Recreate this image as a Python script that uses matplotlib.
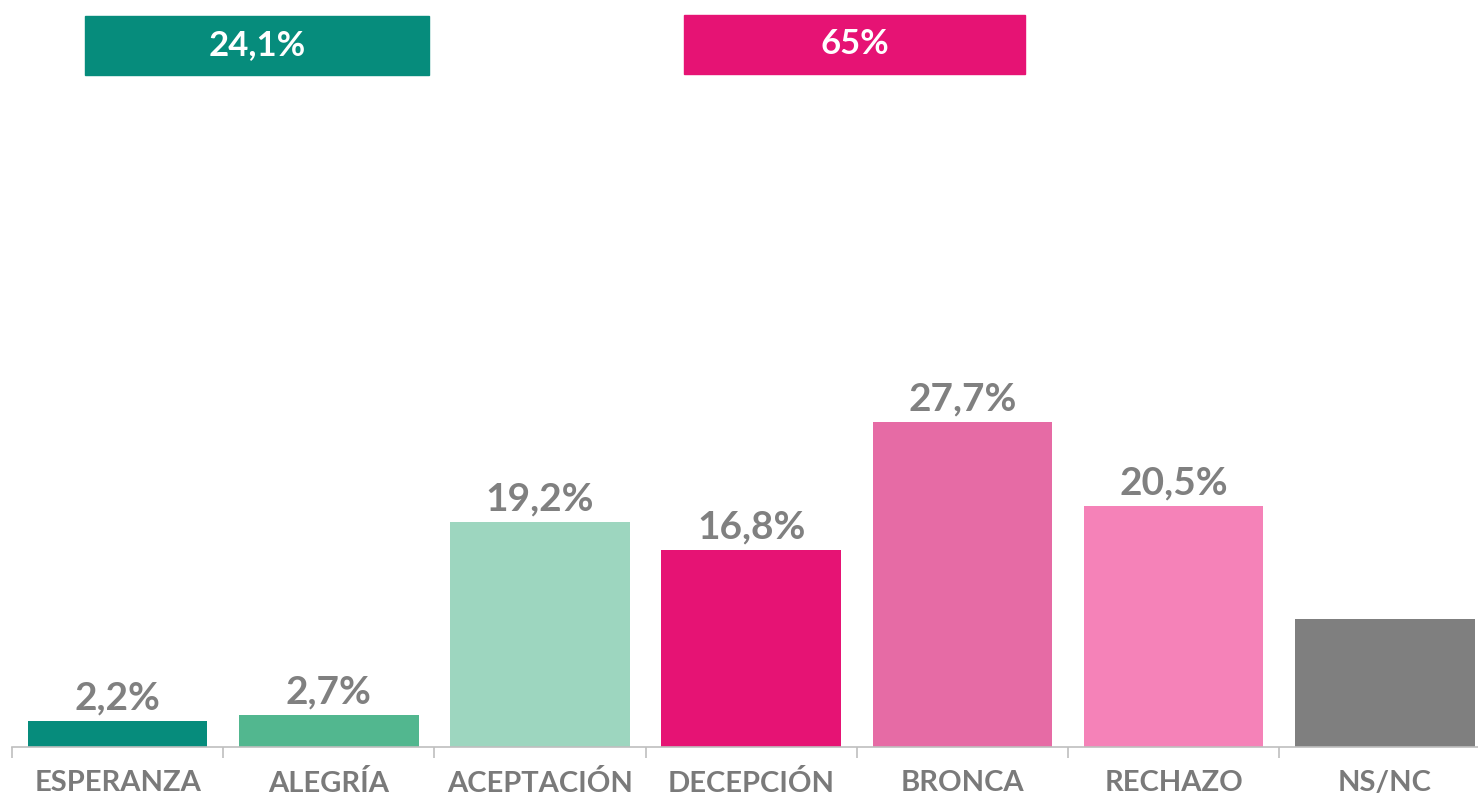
import matplotlib
matplotlib.use("Agg")
import matplotlib.pyplot as plt
from matplotlib.patches import Rectangle

categories = ["ESPERANZA", "ALEGRÍA", "ACEPTACIÓN", "DECEPCIÓN", "BRONCA", "RECHAZO", "NS/NC"]
values = [2.2, 2.7, 19.2, 16.8, 27.7, 20.5, 10.9]
value_labels = ["2,2%", "2,7%", "19,2%", "16,8%", "27,7%", "20,5%", ""]
colors = ["#068c7c", "#52b78f", "#9dd6bf", "#e61374", "#e66ba5", "#f582b8", "#7f7f7f"]
group_labels = ["24,1%", "65%"]
group_colors = ["#068c7c", "#e61374"]

plt.rcParams['font.family'] = ['Lato', 'DejaVu Sans']

W, H = 1478, 800
fig = plt.figure(figsize=(W / 100, H / 100), dpi=100)
base_px = 746.5
px_per_unit = 11.715
cat_w = 211.2
left_px = 12
ax = fig.add_axes([left_px / W, (H - base_px) / H, 7 * cat_w / W, base_px / H])
ax.set_xlim(-0.5, 6.5)
ax.set_ylim(0, base_px / px_per_unit)

x = list(range(len(categories)))
bars = ax.bar(x, values, width=0.85, color=colors)
for b, lab in zip(bars, value_labels):
    if lab:
        ax.annotate(lab, (b.get_x() + b.get_width() / 2, b.get_height()),
                    xytext=(0, 4), textcoords="offset points", ha="center", va="bottom",
                    fontsize=28, color="#808080", fontweight="bold")

for s in ["top", "right", "left"]:
    ax.spines[s].set_visible(False)
ax.spines["bottom"].set_color("#bfbfbf")
ax.spines["bottom"].set_linewidth(1.2)
ax.set_yticks([])
ax.set_xticks(x)
ax.set_xticklabels(categories, fontsize=21, color="#7a7a7a", fontweight="bold")
ax.tick_params(axis="x", which="major", length=0, pad=17)
ax.set_xticks([i - 0.5 for i in range(8)], minor=True)
ax.tick_params(axis="x", which="minor", length=8, color="#bfbfbf", width=1.2)

# group banners (figure pixel coordinates)
banners = [(85, 16, 344, 59), (684, 15, 341, 59)]
for (bx, by, bw, bh), lab, col in zip(banners, group_labels, group_colors):
    fig.patches.append(Rectangle((bx / W, 1 - (by + bh) / H), bw / W, bh / H,
                                 transform=fig.transFigure, color=col, zorder=1))
    fig.text((bx + bw / 2) / W, 1 - (by + bh / 2) / H, lab, ha="center", va="center",
             color="white", fontsize=25, fontweight="bold")

fig.savefig("out.png", dpi=100)
